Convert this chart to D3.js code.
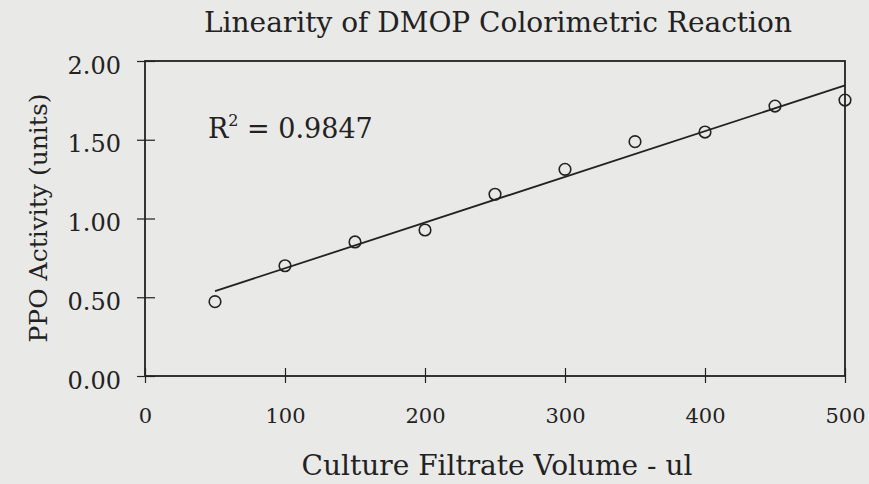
<!DOCTYPE html>
<html>
<head>
<meta charset="utf-8">
<script src="https://cdn.jsdelivr.net/npm/d3@7"></script>
<style>
  body { margin: 0; background: #e9e9e7; }
  svg { display: block; }
  text { font-family: "DejaVu Serif", "Liberation Serif", serif; fill: #222; }
</style>
</head>
<body>
<svg id="chart"></svg>
<script>
// data
const volumes = [50, 100, 150, 200, 250, 300, 350, 400, 450, 500]
const activity = [0.472, 0.700, 0.851, 0.927, 1.154, 1.312, 1.488, 1.549, 1.714, 1.752]
const xTicks = [0, 100, 200, 300, 400, 500]
const yTicks = [0, 0.5, 1.0, 1.5, 2.0]
const rSquared = '0.9847'

const WIDTH = 869
const HEIGHT = 484
const LEFT = 145, RIGHT = 845, TOP = 61, BOTTOM = 376
const INK = '#222'

const svg = d3.select('#chart')
  .attr('width', WIDTH)
  .attr('height', HEIGHT)

const x = d3.scaleLinear().domain([0, 500]).range([LEFT, RIGHT])
const y = d3.scaleLinear().domain([0, 2]).range([BOTTOM, TOP])

// frame
svg.append('rect')
  .attr('x', LEFT).attr('y', TOP)
  .attr('width', RIGHT - LEFT).attr('height', BOTTOM - TOP)
  .attr('fill', 'none').attr('stroke', INK).attr('stroke-width', 1.8)

// y axis, ticks cross the axis line
const yAxis = svg.append('g')
  .attr('transform', `translate(${LEFT},0)`)
  .call(d3.axisLeft(y).tickValues(yTicks).tickSize(8).tickPadding(16).tickFormat(d3.format('.2f')))
yAxis.select('.domain').remove()
yAxis.selectAll('.tick line').attr('x1', 10).attr('stroke', INK).attr('stroke-width', 1.2)
yAxis.selectAll('.tick text')
  .attr('dy', '0.5em')
  .style('font-size', '24px')
  .attr('fill', INK)

// x axis
const xAxis = svg.append('g')
  .attr('transform', `translate(0,${BOTTOM})`)
  .call(d3.axisBottom(x).tickValues(xTicks).tickSize(7).tickPadding(25).tickFormat(d3.format('d')))
xAxis.select('.domain').remove()
xAxis.selectAll('.tick line').attr('y1', -8).attr('stroke', INK).attr('stroke-width', 1.2)
xAxis.selectAll('.tick text')
  .style('font-size', '21px')
  .attr('fill', INK)

// least squares fit
const mx = d3.mean(volumes), my = d3.mean(activity)
let sxy = 0, sxx = 0
volumes.forEach((v, i) => {
  sxy += (v - mx) * (activity[i] - my)
  sxx += (v - mx) * (v - mx)
})
const slope = sxy / sxx
const intercept = my - slope * mx
const x0 = d3.min(volumes), x1 = d3.max(volumes)

svg.append('line')
  .attr('x1', x(x0)).attr('y1', y(intercept + slope * x0))
  .attr('x2', x(x1)).attr('y2', y(intercept + slope * x1))
  .attr('stroke', INK).attr('stroke-width', 1.8)

// points
svg.selectAll('.pt')
  .data(volumes)
  .enter().append('circle')
  .attr('class', 'pt')
  .attr('cx', d => x(d))
  .attr('cy', (d, i) => y(activity[i]))
  .attr('r', 5.8)
  .attr('fill', 'none')
  .attr('stroke', INK)
  .attr('stroke-width', 1.6)

// labels
svg.append('text')
  .attr('x', 498).attr('y', 32)
  .attr('text-anchor', 'middle')
  .style('font-size', '28px')
  .text('Linearity of DMOP Colorimetric Reaction')

svg.append('text')
  .attr('x', 497).attr('y', 475)
  .attr('text-anchor', 'middle')
  .style('font-size', '28px')
  .text('Culture Filtrate Volume - ul')

svg.append('text')
  .attr('transform', 'translate(47,218) rotate(-90)')
  .attr('text-anchor', 'middle')
  .style('font-size', '25px')
  .text('PPO Activity (units)')

const r2 = svg.append('text')
  .attr('x', 208).attr('y', 138)
  .style('font-size', '27px')
r2.append('tspan').text('R')
r2.append('tspan').attr('dy', -12).style('font-size', '16px').text('2')
r2.append('tspan').attr('dy', 12).text(' = ' + rSquared)
</script>
</body>
</html>
